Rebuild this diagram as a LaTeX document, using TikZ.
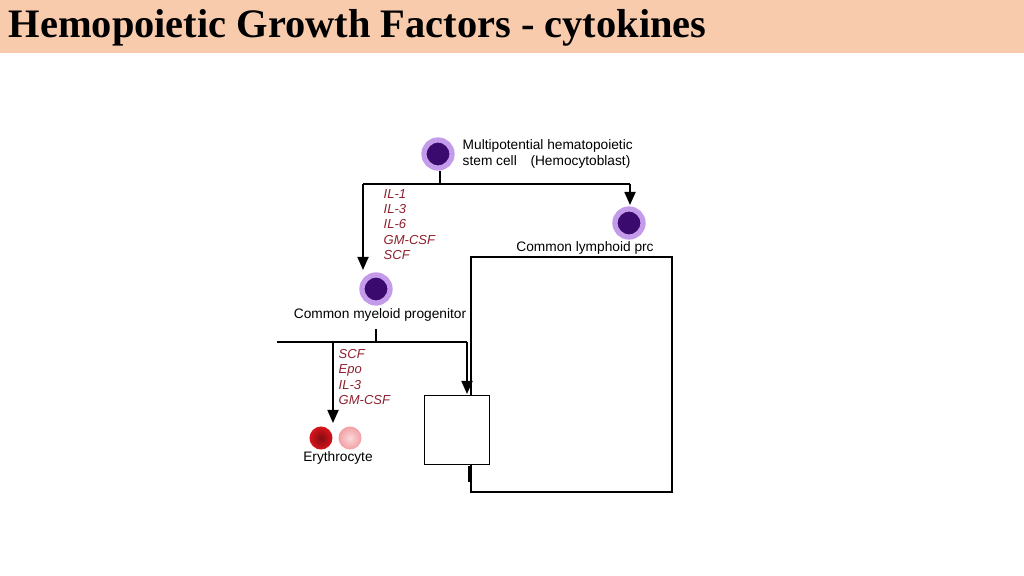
\documentclass[tikz,border=0pt]{standalone}
\usepackage{fontspec}
\setmainfont{Liberation Serif}
\setsansfont{Liberation Sans}
\usetikzlibrary{arrows.meta}
\definecolor{titlebg}{HTML}{F8CBAD}
\definecolor{cellring}{HTML}{C49AEA}
\definecolor{cellcore}{HTML}{3A0A6E}
\definecolor{factor}{HTML}{8E1F2E}
\definecolor{rbcdark}{HTML}{D8141C}
\definecolor{rbclight}{HTML}{F2A0A4}
\tikzset{
  cell/.style={circle, draw=cellring, line width=1.5pt, fill=cellcore, minimum size=0.28cm, inner sep=0pt},
  celltext/.style={font=\sffamily\fontsize{3.9}{4.7}\selectfont, inner sep=0pt, align=left},
  factors/.style={font=\sffamily\itshape\fontsize{3.7}{4.3}\selectfont, text=factor, inner sep=0pt, align=left, anchor=north west},
  link/.style={line width=0.5pt},
  arr/.style={link, -{Triangle[length=1.3mm, width=1.1mm]}},
  emptybox/.style={draw, line width=0.35pt}
}
\begin{document}
\begin{tikzpicture}[x=0.01cm, y=-0.01cm]
    \useasboundingbox (0,0) rectangle (1024,576);
    \fill[titlebg] (0,0) rectangle (1024,53);
    \node[anchor=base west, inner sep=0pt, font=\bfseries\fontsize{11.5}{13}\selectfont] (title) at (8,38) {Hemopoietic Growth Factors - cytokines};
    % cells
    \node[cell] (stem) at (438,154) {};
    \node[celltext, anchor=west] (stemtext) at (462,154) {Multipotential hematopoietic\\ stem cell\quad(Hemocytoblast)};
    \node[cell] (lymph) at (629,223) {};
    \node[celltext] (lymphtext) at (585,248) {Common lymphoid prc};
    \node[cell] (myelo) at (376,289) {};
    \node[celltext] (myelotext) at (380,315) {Common myeloid progenitor};
    \node[circle, inner color=rbcdark!60!black, outer color=rbcdark, minimum size=0.23cm, inner sep=0pt] (rbc1) at (321,438) {};
    \node[circle, inner color=rbclight!40, outer color=rbclight, minimum size=0.23cm, inner sep=0pt] (rbc2) at (350,438) {};
    \node[celltext] (rbctext) at (338,458) {Erythrocyte};
    % boxes
    \draw[emptybox] (471,257) rectangle (672,492);
    \node[emptybox, fill=white, minimum width=0.65cm, minimum height=0.69cm, anchor=north west, inner sep=0pt] (boxA) at (424,395) {};
    % connectors
    \coordinate (j1) at (440,184);
    \coordinate (j2) at (376,342);
    \draw[link] (440,171) -- (j1);
    \draw[link] (363,184) -- (630,184);
    \draw[arr] (630,184) -- (630,205);
    \draw[arr] (363,184) -- (363,270);
    \draw[link] (376,329) -- (j2);
    \draw[link] (277,342) -- (467,342);
    \draw[arr] (333,342) -- (333,423);
    \draw[arr] (467,342) -- (467,394);
    \draw[link] (469,466) -- (469,482);
    % factors
    \node[factors] (f1) at (383,189) {IL-1\\ IL-3\\ IL-6\\ GM-CSF\\ SCF};
    \node[factors] (f2) at (338,349) {SCF\\ Epo\\ IL-3\\ GM-CSF};
\end{tikzpicture}
\end{document}
